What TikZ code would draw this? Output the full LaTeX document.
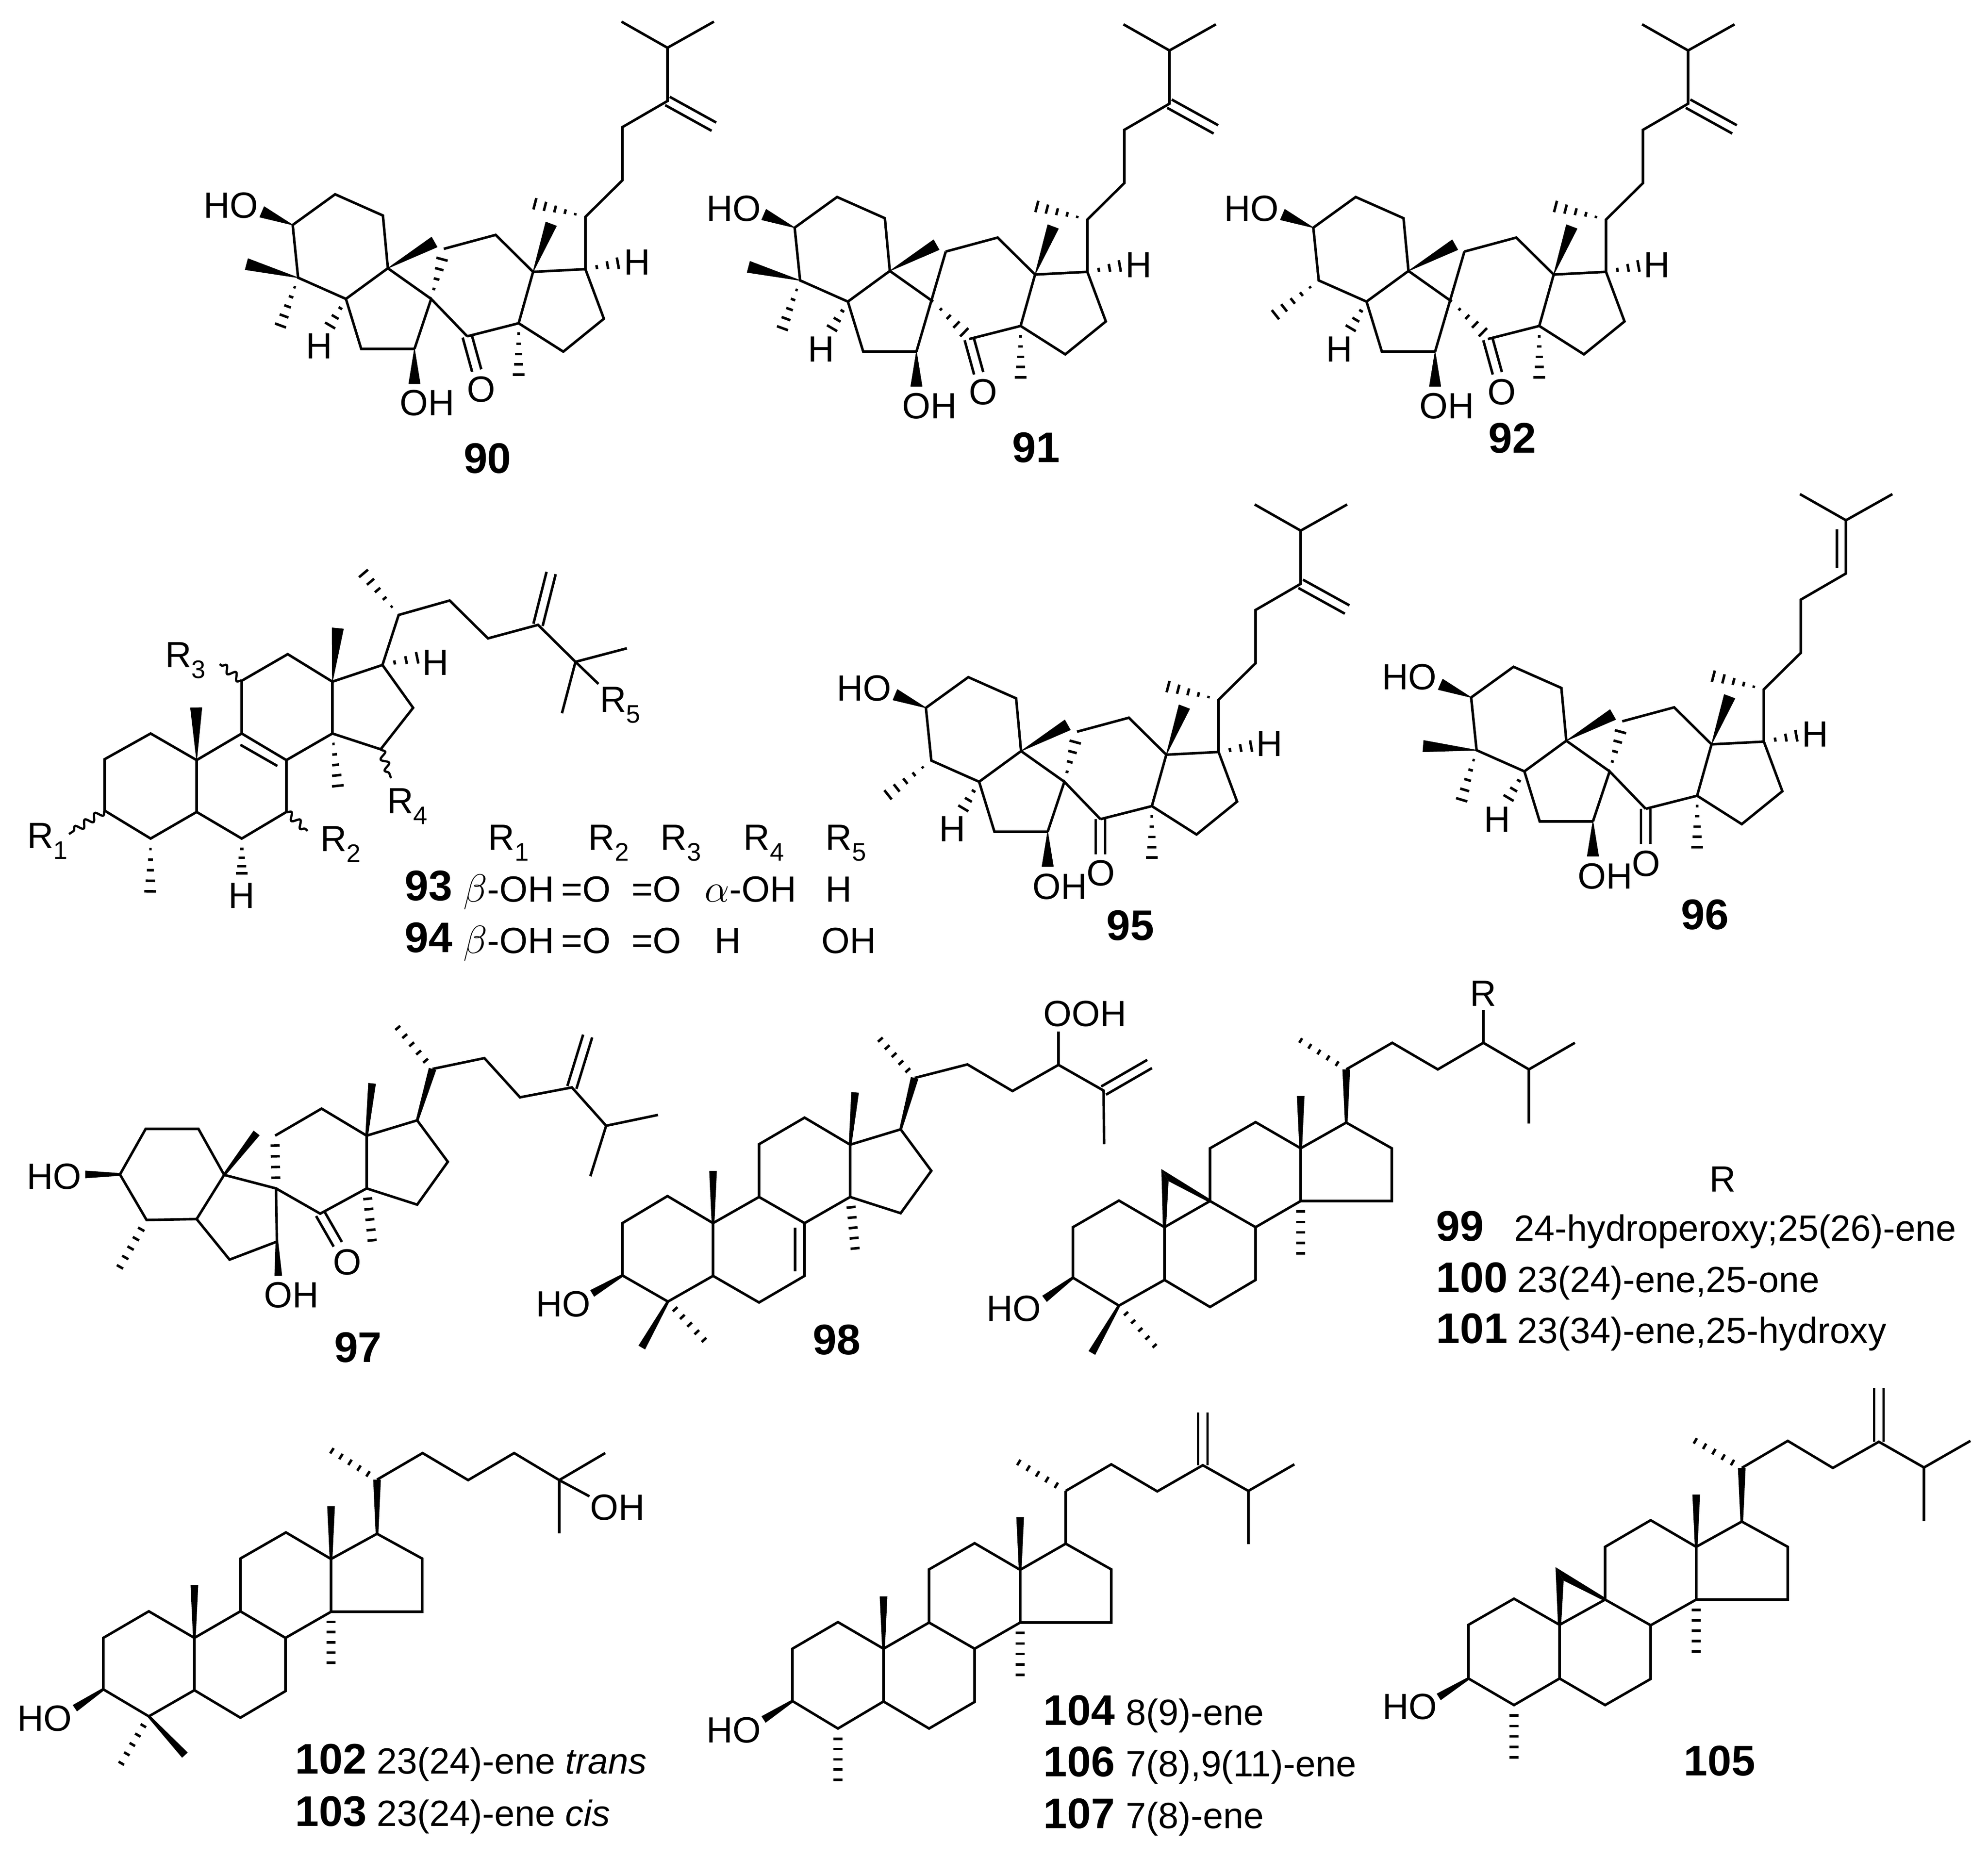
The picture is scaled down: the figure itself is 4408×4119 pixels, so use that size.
\documentclass[tikz,border=0pt]{standalone}
\usepackage{fontspec}
\setmainfont{Liberation Sans}
\usetikzlibrary{calc,decorations.pathmorphing}
\tikzset{
  bond/.style={line width=1.6pt,line join=miter},
  stripe/.style={line width=1.6pt},
  wedgefill/.style={fill=black,draw=black,line width=.4pt,line join=round},
  wavy/.style={line width=1.4pt,decorate,decoration={snake,amplitude=2.2pt,segment length=7.5pt}},
  lab/.style={inner sep=0pt,font=\fontsize{23}{25}\selectfont},
  txt/.style={inner sep=0pt,anchor=base west,font=\fontsize{23}{25}\selectfont},
  num/.style={inner sep=0pt,font=\bfseries\fontsize{27}{29}\selectfont},
  numb/.style={num,anchor=base west}
}
\newcommand{\wedgebond}[3][.125cm]{\filldraw[wedgefill] (#2) -- ($(#3)!#1!90:(#2)$) -- ($(#3)!#1!-90:(#2)$) -- cycle;}
\newcommand{\boldbond}[2]{\fill ($(#1)!.03cm!90:(#2)$) -- ($(#2)!.085cm!-90:(#1)$) -- ($(#2)!.085cm!90:(#1)$) -- ($(#1)!.03cm!-90:(#2)$) -- cycle;}
\newcommand{\apexbond}[3]{\fill ($(#1)!.035cm!90:(apex)$) -- (#2) -- (#3) -- ($(#1)!.035cm!-90:(apex)$) -- cycle;}
\newcommand{\hashbond}[3][.2,.4,.6,.8,1]{\foreach \pos [evaluate=\pos as \hw using \pos*.13] in {#1}
  \draw[stripe] ($(#2)!\pos!(#3)!\hw cm!90:(#2)$) -- ($(#2)!\pos!(#3)!\hw cm!-90:(#2)$);}
\newcommand{\flathash}[4][.2,.4,.6,.8,1]{\foreach \pos in {#1}
  \draw[stripe] ($(#3)!\pos!(#4)!#2 cm!90:(#3)$) -- ($(#3)!\pos!(#4)!#2 cm!-90:(#3)$);}
\newcommand{\dblbond}[2]{\draw[bond] ($(#1)!.105cm!90:(#2)$) -- ($(#2)!.105cm!-90:(#1)$);
  \draw[bond] ($(#1)!.105cm!-90:(#2)$) -- ($(#2)!.105cm!90:(#1)$);}
\newcommand{\rsub}[1]{R\raisebox{-.3em}{\fontsize{16}{16}\selectfont #1}}
% shared skeleton of 90, 91, 92, 95, 96
\newcommand{\spiropoints}{
  \draw (649,499) coordinate (c3) (743,431) coordinate (c2) (849,478) coordinate (c1)
    (860,595) coordinate (c10) (767,663) coordinate (c5) (661,616) coordinate (c4)
    (801,774) coordinate (c6) (919,774) coordinate (c7) (1036,746) coordinate (c8)
    (956,663) coordinate (c9) (984,552) coordinate (c11) (1099,521) coordinate (c12)
    (1182,603) coordinate (c13) (1150,717) coordinate (c14) (1249,780) coordinate (c15)
    (1339,707) coordinate (c16) (1298,597) coordinate (c17) (1298,481) coordinate (c20)
    (1380,400) coordinate (c22) (1380,282) coordinate (c23) (1480,224) coordinate (c24)
    (1480,106) coordinate (c25) (1378,48) coordinate (c26) (1583,48) coordinate (c27)
    (1583,281) coordinate (c28) (581,470) coordinate (ohend) (732,722) coordinate (hfive)
    (919,851) coordinate (ohseven) (963,537) coordinate (mten) (1222,497) coordinate (mthirteen)
    (1150,831) coordinate (mfourteen) (1370,584) coordinate (hseventeen) (1186,452) coordinate (mtwenty)
    (980,575) coordinate (celeven) (1025,731) coordinate (ceight) (1057,822) coordinate (oskew)
    (1036,824) coordinate (oflat) (547,586) coordinate (mup) (622,722) coordinate (mdown)
    (565,692) coordinate (mone);
}
\newcommand{\spirobonds}{
  \draw[bond] (c3) -- (c2) -- (c1) -- (c10) -- (c5) -- (c4) -- (c3) (c5) -- (c6) -- (c7) (c10) -- (c9);
  \draw[bond] (c11) -- (c12) -- (c13) -- (c14) -- (c15) -- (c16) -- (c17) -- (c13) (c14) -- (c8);
  \draw[bond] (c17) -- (c20) -- (c22) -- (c23) -- (c24) -- (c25) -- (c26) (c25) -- (c27);
  \wedgebond{c3}{ohend}
  \wedgebond{c7}{ohseven}
  \wedgebond{c10}{mten}
  \wedgebond{c13}{mthirteen}
  \hashbond[.35,.68,1]{c5}{hfive}
  \hashbond{c14}{mfourteen}
  \hashbond[.35,.68,1]{c17}{hseventeen}
  \hashbond{c20}{mtwenty}
}
\newcommand{\openbonds}{
  \draw[bond] (c7) -- (c9) -- (c8);
  \hashbond[.25,.5,.75,1]{c9}{celeven}
}
\newcommand{\closedbonds}{
  \draw[bond] (c11) -- (c7);
  \hashbond[.25,.5,.75,1]{c9}{ceight}
}
% shared rings of the other steroids
\newcommand{\ringbonds}{
  \draw[bond] (c3) -- (c2) -- (c1) -- (c10) -- (c5) -- (c4) -- (c3) (c5) -- (c6) -- (c7) -- (c8) -- (c9) -- (c10);
  \draw[bond] (c9) -- (c11) -- (c12) -- (c13) -- (c14) -- (c8) (c14) -- (c15) -- (c16) -- (c17) -- (c13);
}
\newcommand{\chainbonds}{
  \draw[bond] (c20) -- (c22) -- (c23) -- (c24) -- (c25) -- (c26) (c25) -- (c27);
}
\begin{document}
\begin{tikzpicture}[x=0.01cm,y=-0.01cm]
  \useasboundingbox (0,0) rectangle (4408,4119);

  % 90
  \spiropoints
  \spirobonds
  \openbonds
  \wedgebond{c4}{mup}
  \hashbond{c4}{mdown}
  \dblbond{c24}{c28}
  \dblbond{c8}{oskew}
  \node[lab] (ho90) at (512,456) {HO};
  \node[lab] (h90a) at (708,768) {H};
  \node[lab] (oh90) at (947,894) {OH};
  \node[lab] (o90) at (1067,864) {O};
  \node[lab] (h90b) at (1413,582) {H};
  \node[num] (n90) at (1081,1017) {90};

  % 91
  \begin{scope}[shift={(1113,6)}]
    \spiropoints
  \end{scope}
  \spirobonds
  \closedbonds
  \wedgebond{c4}{mup}
  \hashbond{c4}{mdown}
  \dblbond{c24}{c28}
  \dblbond{c8}{oskew}
  \node[lab] (ho91) at (1627,463) {HO};
  \node[lab] (h91a) at (1821,775) {H};
  \node[lab] (oh91) at (2061,901) {OH};
  \node[lab] (o91) at (2180,870) {O};
  \node[lab] (h91b) at (2525,588) {H};
  \node[num] (n91) at (2297,993) {91};

  % 92
  \begin{scope}[shift={(2263,6)}]
    \spiropoints
  \end{scope}
  \spirobonds
  \closedbonds
  \hashbond{c4}{mone}
  \dblbond{c24}{c28}
  \dblbond{c8}{oskew}
  \node[lab] (ho92) at (2775,463) {HO};
  \node[lab] (h92a) at (2970,775) {H};
  \node[lab] (oh92) at (3208,901) {OH};
  \node[lab] (o92) at (3330,870) {O};
  \node[lab] (h92b) at (3674,588) {H};
  \node[num] (n92) at (3353,972) {92};

  % 95
  \begin{scope}[shift={(1404,1071)}]
    \spiropoints
  \end{scope}
  \spirobonds
  \openbonds
  \hashbond{c4}{mone}
  \dblbond{c24}{c28}
  \dblbond{c8}{oflat}
  \node[lab] (ho95) at (1916,1527) {HO};
  \node[lab] (h95a) at (2112,1839) {H};
  \node[lab] (oh95) at (2350,1967) {OH};
  \node[lab] (o95) at (2441,1937) {O};
  \node[lab] (h95b) at (2815,1650) {H};
  \node[num] (n95) at (2506,2053) {95};

  % 96
  \begin{scope}[shift={(2613,1048)}]
    \spiropoints
    \draw (543,607) coordinate (mup) (628,726) coordinate (mdown) (1460,126) coordinate (ina) (1460,212) coordinate (inb);
  \end{scope}
  \spirobonds
  \openbonds
  \wedgebond{c4}{mup}
  \hashbond{c4}{mdown}
  \draw[bond] (ina) -- (inb);
  \dblbond{c8}{oflat}
  \node[lab] (ho96) at (3125,1502) {HO};
  \node[lab] (h96a) at (3320,1818) {H};
  \node[lab] (oh96) at (3559,1944) {OH};
  \node[lab] (o96) at (3650,1916) {O};
  \node[lab] (h96b) at (4025,1629) {H};
  \node[num] (n96) at (3780,2029) {96};

  % 93, 94
  \draw (232,1798) coordinate (c3) (232,1684) coordinate (c2) (334,1627) coordinate (c1)
    (436,1686) coordinate (c10) (436,1801) coordinate (c5) (334,1860) coordinate (c4)
    (536,1860) coordinate (c6) (635,1801) coordinate (c7) (635,1686) coordinate (c8)
    (536,1627) coordinate (c9) (536,1510) coordinate (c11) (638,1451) coordinate (c12)
    (737,1512) coordinate (c13) (737,1627) coordinate (c14) (844,1662) coordinate (c15)
    (916,1570) coordinate (c16) (848,1475) coordinate (c17) (884,1364) coordinate (c20)
    (997,1332) coordinate (c22) (1082,1416) coordinate (c23) (1193,1386) coordinate (c24)
    (1222,1271) coordinate (c28) (1276,1468) coordinate (c25) (1390,1438) coordinate (c26)
    (1246,1582) coordinate (c27) (1327,1517) coordinate (rfive)
    (533,1652) coordinate (ina) (615,1699) coordinate (inb)
    (435,1570) coordinate (mten) (749,1394) coordinate (mthirteen) (749,1743) coordinate (mfourteen)
    (333,1977) coordinate (mfour) (536,1937) coordinate (hsix) (806,1272) coordinate (mtwenty)
    (925,1459) coordinate (hseventeen) (153,1850) coordinate (rone) (682,1843) coordinate (rtwo)
    (487,1473) coordinate (rthree) (867,1726) coordinate (rfour);
  \ringbonds
  \draw[bond] (c17) -- (c20) -- (c22) -- (c23) -- (c24) -- (c25) -- (c26) (c25) -- (c27) (c25) -- (rfive);
  \draw[bond] (ina) -- (inb);
  \dblbond{c24}{c28}
  \wedgebond{c10}{mten}
  \wedgebond{c13}{mthirteen}
  \hashbond{c14}{mfourteen}
  \hashbond{c4}{mfour}
  \hashbond[.3,.55,.8,1]{c6}{hsix}
  \hashbond{c20}{mtwenty}
  \hashbond[.35,.68,1]{c17}{hseventeen}
  \draw[wavy] (c3) -- (rone);
  \draw[wavy] (c7) -- (rtwo);
  \draw[wavy] (c11) -- (rthree);
  \draw[wavy] (c15) -- (rfour);
  \node[lab] (r1) at (105,1866) {\rsub{1}};
  \node[lab] (r2) at (755,1873) {\rsub{2}};
  \node[lab] (r3) at (411,1465) {\rsub{3}};
  \node[lab] (r4) at (903,1789) {\rsub{4}};
  \node[lab] (r5) at (1375,1564) {\rsub{5}};
  \node[lab] (h93a) at (966,1470) {H};
  \node[lab] (h93b) at (536,1987) {H};
  \node[txt] (t1) at (1082,1885) {\rsub{1}};
  \node[txt] (t2) at (1304,1885) {\rsub{2}};
  \node[txt] (t3) at (1464,1885) {\rsub{3}};
  \node[txt] (t4) at (1648,1885) {\rsub{4}};
  \node[txt] (t5) at (1830,1885) {\rsub{5}};
  \node[numb] (n93) at (897,1997) {93};
  \node[txt] (a93) at (1027,2000) {$\beta$-OH};
  \node[txt] (b93) at (1244,2000) {=O};
  \node[txt] (d93) at (1400,2000) {=O};
  \node[txt] (e93) at (1562,2000) {$\alpha$-OH};
  \node[txt] (f93) at (1830,2000) {H};
  \node[numb] (n94) at (897,2112) {94};
  \node[txt] (a94) at (1027,2114) {$\beta$-OH};
  \node[txt] (b94) at (1244,2114) {=O};
  \node[txt] (d94) at (1400,2114) {=O};
  \node[txt] (e94) at (1584,2114) {H};
  \node[txt] (f94) at (1821,2114) {OH};

  % 97
  \draw (266,2605) coordinate (c3) (323,2504) coordinate (c2) (440,2504) coordinate (c1)
    (497,2606) coordinate (c10) (436,2704) coordinate (c5) (325,2706) coordinate (c4)
    (509,2794) coordinate (c6) (614,2754) coordinate (c7) (612,2636) coordinate (c9)
    (710,2692) coordinate (c8) (813,2636) coordinate (c14) (813,2519) coordinate (c13)
    (713,2459) coordinate (c12) (610,2519) coordinate (c11) (925,2672) coordinate (c15)
    (993,2577) coordinate (c16) (925,2485) coordinate (c17) (959,2371) coordinate (c20)
    (1074,2347) coordinate (c22) (1153,2434) coordinate (c23) (1268,2412) coordinate (c24)
    (1303,2298) coordinate (c28) (1344,2497) coordinate (c25) (1459,2473) coordinate (c26)
    (1309,2609) coordinate (c27) (189,2605) coordinate (ohend) (569,2513) coordinate (mten)
    (825,2403) coordinate (mthirteen) (617,2830) coordinate (ohseven) (610,2541) coordinate (celeven)
    (825,2751) coordinate (mfourteen) (266,2810) coordinate (mfour) (882,2280) coordinate (mtwenty)
    (749,2760) coordinate (oskew);
  \draw[bond] (c3) -- (c2) -- (c1) -- (c10) -- (c5) -- (c4) -- (c3) (c5) -- (c6) -- (c7) -- (c9) -- (c10);
  \draw[bond] (c9) -- (c8) -- (c14) -- (c15) -- (c16) -- (c17) -- (c13) -- (c14) (c13) -- (c12) -- (c11);
  \chainbonds
  \dblbond{c24}{c28}
  \dblbond{c8}{oskew}
  \boldbond{c3}{ohend}
  \boldbond{c10}{mten}
  \boldbond{c13}{mthirteen}
  \boldbond{c17}{c20}
  \boldbond{c7}{ohseven}
  \flathash{.1}{c14}{mfourteen}
  \flathash{.08}{c4}{mfour}
  \flathash{.07}{c20}{mtwenty}
  \flathash[.25,.5,.75,1]{.1}{c9}{celeven}
  \node[lab] (ho97) at (120,2610) {HO};
  \node[lab] (oh97) at (646,2873) {OH};
  \node[lab] (o97) at (770,2800) {O};
  \node[num] (n97) at (794,2989) {97};

  % 98
  \draw (1380,2829) coordinate (c3) (1380,2713) coordinate (c2) (1480,2653) coordinate (c1)
    (1581,2713) coordinate (c10) (1581,2830) coordinate (c5) (1481,2887) coordinate (c4)
    (1683,2889) coordinate (c6) (1784,2830) coordinate (c7) (1784,2713) coordinate (c8)
    (1683,2655) coordinate (c9) (1683,2538) coordinate (c11) (1784,2479) coordinate (c12)
    (1885,2539) coordinate (c13) (1885,2655) coordinate (c14) (1997,2691) coordinate (c15)
    (2065,2597) coordinate (c16) (1997,2505) coordinate (c17) (2028,2391) coordinate (c20)
    (2145,2361) coordinate (c22) (2245,2420) coordinate (c23) (2347,2362) coordinate (c24)
    (2447,2419) coordinate (c25) (2549,2360) coordinate (c26) (2448,2538) coordinate (c27)
    (2347,2288) coordinate (oend) (1763,2723) coordinate (ina) (1763,2820) coordinate (inb)
    (1313,2869) coordinate (ohend) (1581,2597) coordinate (mten) (1896,2423) coordinate (mthirteen)
    (1423,2989) coordinate (mup) (1896,2769) coordinate (mfourteen) (1952,2306) coordinate (mtwenty)
    (1561,2972) coordinate (mfour);
  \ringbonds
  \draw[bond] (c20) -- (c22) -- (c23) -- (c24) -- (c25) -- (c27) (c24) -- (oend);
  \draw[bond] (ina) -- (inb);
  \dblbond{c25}{c26}
  \boldbond{c3}{ohend}
  \boldbond{c10}{mten}
  \boldbond{c13}{mthirteen}
  \boldbond{c17}{c20}
  \boldbond{c4}{mup}
  \flathash{.1}{c14}{mfourteen}
  \flathash{.07}{c20}{mtwenty}
  \flathash{.07}{c4}{mfour}
  \node[lab] (ooh98) at (2406,2249) {OOH};
  \node[lab] (ho98) at (1249,2893) {HO};
  \node[num] (n98) at (1855,2972) {98};

  % 99, 100, 101
  \draw (2379,2834) coordinate (c3) (2379,2722) coordinate (c2) (2481,2663) coordinate (c1)
    (2582,2722) coordinate (c10) (2582,2839) coordinate (c5) (2481,2896) coordinate (c4)
    (2683,2899) coordinate (c6) (2784,2839) coordinate (c7) (2784,2722) coordinate (c8)
    (2683,2664) coordinate (c9) (2683,2547) coordinate (c11) (2784,2489) coordinate (c12)
    (2884,2547) coordinate (c13) (2884,2664) coordinate (c14) (3086,2664) coordinate (c15)
    (3086,2547) coordinate (c16) (2985,2490) coordinate (c17) (2985,2372) coordinate (c20)
    (3087,2313) coordinate (c22) (3188,2372) coordinate (c23) (3289,2313) coordinate (c24)
    (3390,2372) coordinate (c25) (3492,2313) coordinate (c26) (3390,2492) coordinate (c27)
    (3289,2240) coordinate (rend) (2575,2593) coordinate (apex) (2591,2620) coordinate (apexin)
    (2316,2881) coordinate (ohend) (2884,2431) coordinate (mthirteen) (2421,3001) coordinate (mup)
    (2884,2780) coordinate (mfourteen) (2560,2985) coordinate (mfour) (2884,2308) coordinate (mtwenty);
  \ringbonds
  \chainbonds
  \draw[bond] (c24) -- (rend);
  \apexbond{c10}{apex}{apexin}
  \apexbond{c9}{apexin}{apex}
  \boldbond{c3}{ohend}
  \boldbond{c13}{mthirteen}
  \boldbond{c17}{c20}
  \boldbond{c4}{mup}
  \flathash{.1}{c14}{mfourteen}
  \flathash{.06}{c4}{mfour}
  \flathash{.06}{c20}{mtwenty}
  \node[lab] (ho99) at (2248,2903) {HO};
  \node[lab] (r99) at (3289,2204) {R};
  \node[lab] (rhead) at (3820,2616) {R};
  \node[numb] (n99) at (3184,2752) {99};
  \node[txt] (t99) at (3357,2752) {24-hydroperoxy;25(26)-ene};
  \node[numb] (n100) at (3184,2866) {100};
  \node[txt] (t100) at (3364,2866) {23(24)-ene,25-one};
  \node[numb] (n101) at (3184,2979) {101};
  \node[txt] (t101) at (3364,2979) {23(34)-ene,25-hydroxy};

  % 102, 103
  \draw (229,3747) coordinate (c3) (229,3633) coordinate (c2) (330,3574) coordinate (c1)
    (431,3633) coordinate (c10) (431,3749) coordinate (c5) (330,3807) coordinate (c4)
    (533,3810) coordinate (c6) (633,3751) coordinate (c7) (633,3633) coordinate (c8)
    (533,3574) coordinate (c9) (533,3457) coordinate (c11) (634,3399) coordinate (c12)
    (734,3458) coordinate (c13) (734,3575) coordinate (c14) (936,3575) coordinate (c15)
    (936,3457) coordinate (c16) (836,3402) coordinate (c17) (836,3282) coordinate (c20)
    (937,3223) coordinate (c22) (1038,3283) coordinate (c23) (1140,3223) coordinate (c24)
    (1240,3283) coordinate (c25) (1342,3223) coordinate (c26) (1240,3401) coordinate (c27)
    (1307,3319) coordinate (oend) (431,3516) coordinate (mten) (734,3341) coordinate (mthirteen)
    (166,3789) coordinate (ohend) (410,3893) coordinate (mup) (734,3688) coordinate (mfourteen)
    (269,3911) coordinate (mfour) (736,3218) coordinate (mtwenty);
  \ringbonds
  \chainbonds
  \draw[bond] (c25) -- (oend);
  \boldbond{c3}{ohend}
  \boldbond{c10}{mten}
  \boldbond{c13}{mthirteen}
  \boldbond{c17}{c20}
  \boldbond{c4}{mup}
  \flathash{.1}{c14}{mfourteen}
  \flathash{.07}{c4}{mfour}
  \flathash{.07}{c20}{mtwenty}
  \node[lab] (ho102) at (99,3812) {HO};
  \node[lab] (oh102) at (1369,3344) {OH};
  \node[numb] (n102) at (654,3934) {102};
  \node[txt] (t102) at (835,3934) {23(24)-ene \textit{trans}};
  \node[numb] (n103) at (654,4050) {103};
  \node[txt] (t103) at (835,4050) {23(24)-ene \textit{cis}};

  % 104, 106, 107
  \draw (1757,3773) coordinate (c3) (1757,3657) coordinate (c2) (1858,3598) coordinate (c1)
    (1959,3657) coordinate (c10) (1959,3774) coordinate (c5) (1858,3834) coordinate (c4)
    (2060,3834) coordinate (c6) (2161,3775) coordinate (c7) (2161,3657) coordinate (c8)
    (2060,3599) coordinate (c9) (2060,3481) coordinate (c11) (2161,3423) coordinate (c12)
    (2262,3482) coordinate (c13) (2262,3599) coordinate (c14) (2464,3599) coordinate (c15)
    (2464,3481) coordinate (c16) (2363,3424) coordinate (c17) (2363,3307) coordinate (c20)
    (2464,3248) coordinate (c22) (2566,3308) coordinate (c23) (2667,3250) coordinate (c24)
    (2667,3133) coordinate (c28) (2768,3307) coordinate (c25) (2870,3248) coordinate (c26)
    (2768,3425) coordinate (c27) (1959,3541) coordinate (mten) (2262,3365) coordinate (mthirteen)
    (1693,3814) coordinate (ohend) (2262,3715) coordinate (mfourteen) (1858,3948) coordinate (mfour)
    (2259,3244) coordinate (mtwenty);
  \ringbonds
  \chainbonds
  \draw[bond] (c17) -- (c20);
  \dblbond{c24}{c28}
  \boldbond{c3}{ohend}
  \boldbond{c10}{mten}
  \boldbond{c13}{mthirteen}
  \flathash{.1}{c14}{mfourteen}
  \flathash{.1}{c4}{mfour}
  \flathash{.07}{c20}{mtwenty}
  \node[lab] (ho104) at (1627,3838) {HO};
  \node[numb] (n104) at (2313,3826) {104};
  \node[txt] (t104) at (2496,3826) {8(9)-ene};
  \node[numb] (n106) at (2313,3940) {106};
  \node[txt] (t106) at (2496,3940) {7(8),9(11)-ene};
  \node[numb] (n107) at (2313,4055) {107};
  \node[txt] (t107) at (2496,4055) {7(8)-ene};

  % 105
  \draw (3256,3723) coordinate (c3) (3256,3604) coordinate (c2) (3357,3546) coordinate (c1)
    (3458,3604) coordinate (c10) (3458,3723) coordinate (c5) (3357,3782) coordinate (c4)
    (3559,3782) coordinate (c6) (3660,3724) coordinate (c7) (3660,3605) coordinate (c8)
    (3559,3548) coordinate (c9) (3559,3431) coordinate (c11) (3660,3372) coordinate (c12)
    (3761,3431) coordinate (c13) (3761,3548) coordinate (c14) (3964,3548) coordinate (c15)
    (3964,3431) coordinate (c16) (3862,3375) coordinate (c17) (3862,3256) coordinate (c20)
    (3964,3196) coordinate (c22) (4064,3256) coordinate (c23) (4166,3198) coordinate (c24)
    (4166,3079) coordinate (c28) (4266,3255) coordinate (c25) (4369,3196) coordinate (c26)
    (4266,3374) coordinate (c27) (3449,3476) coordinate (apex) (3467,3506) coordinate (apexin)
    (3761,3315) coordinate (mthirteen) (3190,3764) coordinate (ohend) (3761,3663) coordinate (mfourteen)
    (3357,3898) coordinate (mfour) (3759,3196) coordinate (mtwenty);
  \ringbonds
  \chainbonds
  \dblbond{c24}{c28}
  \apexbond{c10}{apex}{apexin}
  \apexbond{c9}{apexin}{apex}
  \boldbond{c3}{ohend}
  \boldbond{c13}{mthirteen}
  \boldbond{c17}{c20}
  \flathash{.1}{c14}{mfourteen}
  \flathash{.1}{c4}{mfour}
  \flathash{.07}{c20}{mtwenty}
  \node[lab] (ho105) at (3126,3786) {HO};
  \node[num] (n105) at (3813,3906) {105};
\end{tikzpicture}
\end{document}
